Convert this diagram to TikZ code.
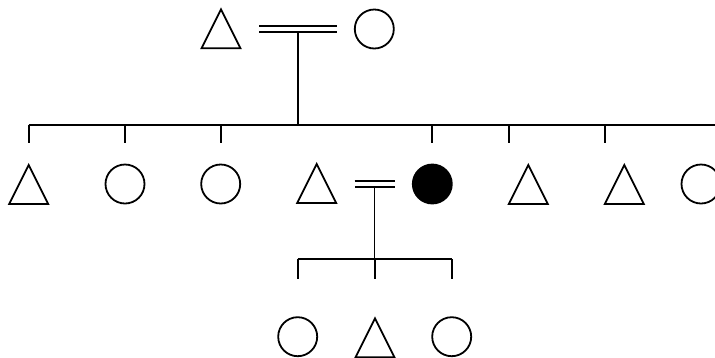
\documentclass[tikz,border=0pt]{standalone}
\usetikzlibrary{shapes.geometric,calc}
\tikzset{>=latex}
\tikzset{
  male/.style={draw, isosceles triangle, shape border rotate=90,
    isosceles triangle stretches, minimum width=39pt, minimum height=39pt,
    inner sep=0pt, outer sep=0pt, anchor=apex},
  female/.style={draw, circle, minimum size=39pt, inner sep=0pt, outer sep=0pt},
  affected/.style={female, fill=black},
  marriage/.style={double, double distance=4.2pt}
}
\begin{document}
\begin{tikzpicture}[x=1pt, y=-1pt, line width=1.8pt]
  \useasboundingbox (0,0) rectangle (715,357);
  % first generation
  \node[male] (gf) at (221,9.3) {};
  \node[female] (gm) at (374.3,29) {};
  \draw[marriage] ([xshift=38pt]gf.apex |- gm) -- ([xshift=-18pt]gm.west);
  \coordinate (u1) at ($(gf.apex |- gm)!0.5!(gm)$);
  \coordinate (bar) at (715,125);
  \draw ([yshift=-3pt]u1) -- (u1 |- bar);
  % second generation
  \node[male] (c1) at (28.7,165) {};
  \node[female] (c2) at (125,184) {};
  \node[female] (c3) at (220.7,184) {};
  \node[male] (c4) at (316.7,164) {};
  \node[affected] (sp) at (432.3,184) {};
  \node[male] (c6) at (528.3,165) {};
  \node[male] (c7) at (624.3,165) {};
  \node[female] (c8) at (701,184) {};
  \draw (c1.apex |- bar) -- (bar);
  \foreach \n in {c1.apex, c2, c3, sp}
    \draw (\n |- bar) -- ++(0,18);
  \foreach \n in {c6, c7}
    \draw ([xshift=-19.5pt]\n.apex |- bar) -- ++(0,18);
  \draw[marriage] ([xshift=38pt]c4.apex |- sp) -- ([xshift=-18pt]sp.west);
  \coordinate (u2) at ($(c4.apex |- sp)!0.5!(sp)$);
  \coordinate (bar2) at (375,259.3);
  % third generation
  \node[female] (gc1) at (297.7,336.7) {};
  \node[male] (gc2) at (375,318.3) {};
  \node[female] (gc3) at (451.7,336.7) {};
  \draw ([yshift=-3pt]u2) -- (u2 |- bar2);
  \draw (gc1 |- bar2) -- (gc3 |- bar2);
  \foreach \n in {gc1, gc2.apex, gc3}
    \draw (\n |- bar2) -- ++(0,20);
\end{tikzpicture}
\end{document}
